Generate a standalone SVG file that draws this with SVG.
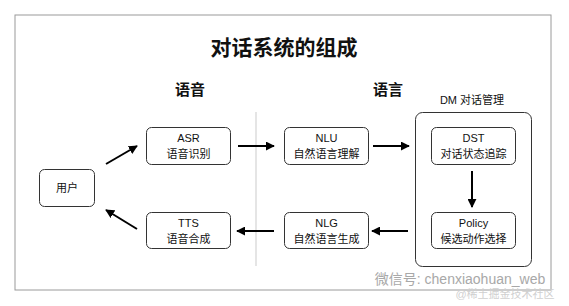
<svg xmlns="http://www.w3.org/2000/svg" width="569" height="306" viewBox="0 0 569 306">
<style>
text{font-family:"Liberation Sans","Noto Sans CJK SC",sans-serif;fill:#111;text-anchor:middle}
.box{fill:#fff;stroke:#333;stroke-width:1}
.lbl{font-size:11px}
.conn{stroke:#000;stroke-width:2;fill:none;marker-end:url(#ah)}
</style>
<defs>
<marker id="ah" viewBox="0 0 10 10" refX="9" refY="5" markerWidth="4.5" markerHeight="4.5" orient="auto" markerUnits="strokeWidth">
<path d="M0,0 L10,5 L0,10 Z" fill="#000"/>
</marker>
</defs>
<rect x="0" y="0" width="569" height="306" fill="#fff"/>
<rect x="15" y="15" width="536" height="275" fill="none" stroke="#9a9a9a" stroke-width="1"/>
<line x1="256" y1="112" x2="256" y2="266" stroke="#ddd" stroke-width="1.5"/>
<text x="284" y="55" font-size="21" font-weight="bold">对话系统的组成</text>
<text x="190" y="95" font-size="15" font-weight="bold">语音</text>
<text x="388" y="95" font-size="15" font-weight="bold">语言</text>
<g id="user">
<rect class="box" x="39.5" y="169.5" width="55" height="37" rx="5"/>
<text class="lbl" x="67" y="192">用户</text>
</g>
<g id="asr">
<rect class="box" x="146.5" y="127.5" width="84" height="37" rx="5"/>
<text class="lbl" x="188.5" y="142">ASR</text>
<text class="lbl" x="188.5" y="158">语音识别</text>
</g>
<g id="tts">
<rect class="box" x="146.5" y="212.5" width="84" height="36" rx="5"/>
<text class="lbl" x="188.5" y="227">TTS</text>
<text class="lbl" x="188.5" y="243">语音合成</text>
</g>
<g id="nlu">
<rect class="box" x="284.5" y="127.5" width="84" height="37" rx="5"/>
<text class="lbl" x="326.5" y="142">NLU</text>
<text class="lbl" x="326.5" y="158">自然语言理解</text>
</g>
<g id="nlg">
<rect class="box" x="284.5" y="212.5" width="84" height="36" rx="5"/>
<text class="lbl" x="326.5" y="227">NLG</text>
<text class="lbl" x="326.5" y="243">自然语言生成</text>
</g>
<g id="dm">
<rect class="box" x="415.5" y="112.5" width="116" height="154" rx="7"/>
<text class="lbl" x="472" y="104">DM 对话管理</text>
</g>
<g id="dst">
<rect class="box" x="431.5" y="127.5" width="84" height="37" rx="5"/>
<text class="lbl" x="473.5" y="142">DST</text>
<text class="lbl" x="473.5" y="158">对话状态追踪</text>
</g>
<g id="policy">
<rect class="box" x="431.5" y="212.5" width="84" height="36" rx="5"/>
<text class="lbl" x="473.5" y="227">Policy</text>
<text class="lbl" x="473.5" y="243">候选动作选择</text>
</g>
<g id="connectors">
<line class="conn" x1="106" y1="164" x2="137" y2="146"/>
<line class="conn" x1="238" y1="146" x2="274" y2="146"/>
<line class="conn" x1="373" y1="146" x2="409" y2="146"/>
<line class="conn" x1="472" y1="171" x2="472" y2="207"/>
<line class="conn" x1="408" y1="231" x2="372" y2="231"/>
<line class="conn" x1="274" y1="231" x2="237" y2="231"/>
<line class="conn" x1="137" y1="229" x2="106" y2="210"/>
</g>
<text x="460" y="284" font-size="14" style="fill:#a8a8a8">微信号: chenxiaohuan_web</text>
<text x="505" y="298" font-size="11" style="fill:#d0d0d0">@稀土掘金技术社区</text>
</svg>
